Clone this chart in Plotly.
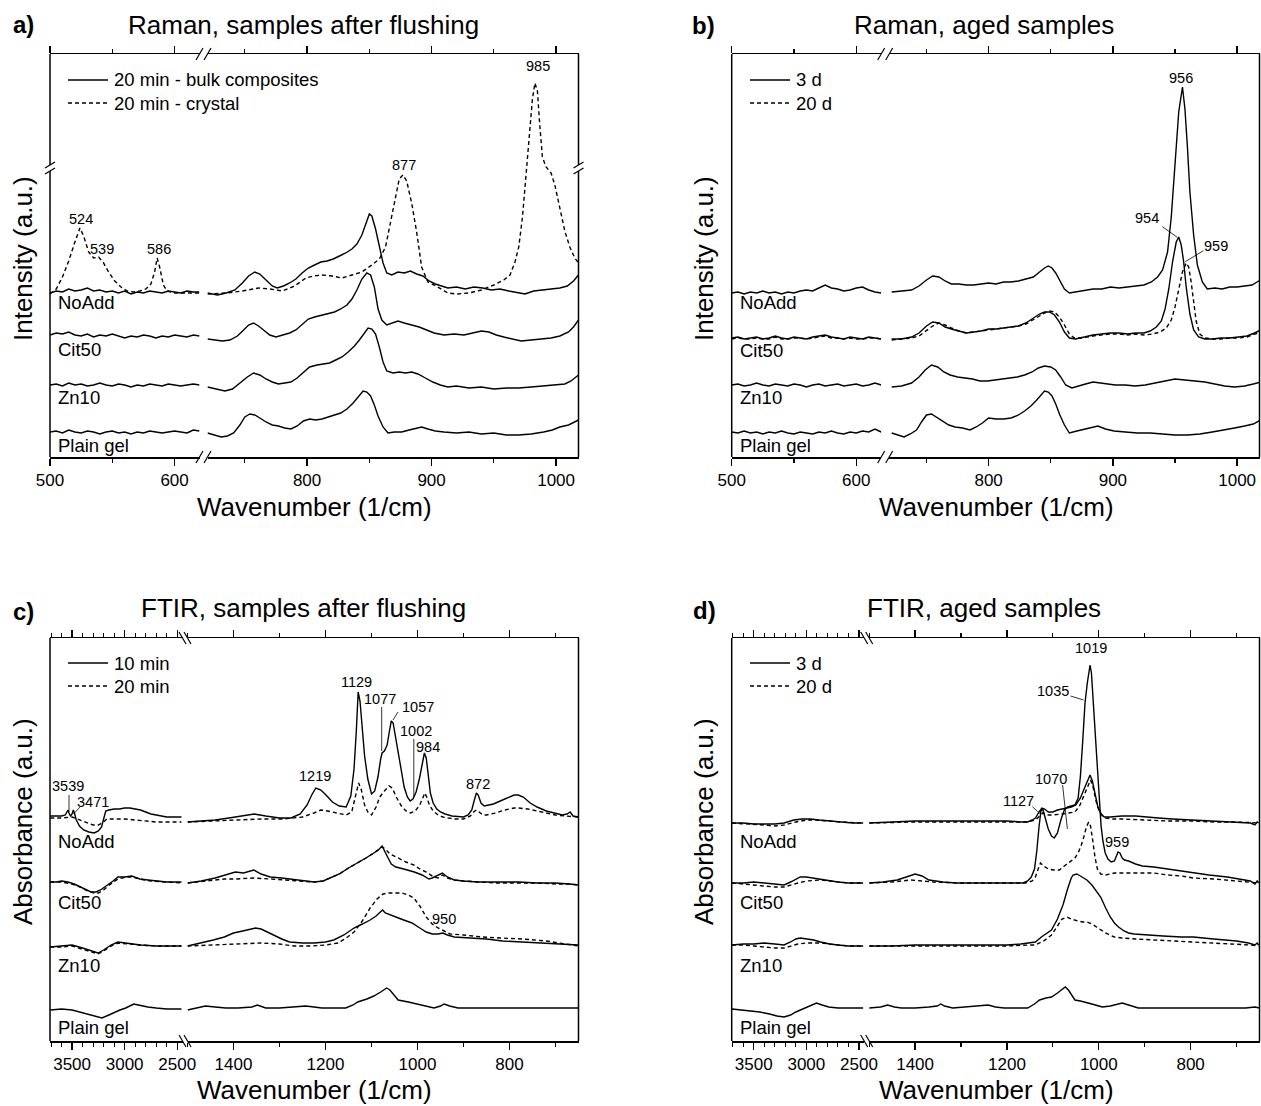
import plotly.graph_objects as go

W, H = 1261, 1106
FONT = "Arial, Liberation Sans, Helvetica, sans-serif"

# ======================= DATA =======================
# ---- Panel a: Raman, samples after flushing (stacked intensities, a.u.) ----
raman_left_wn = [500, 505, 510, 515, 520, 525, 530, 535, 540, 545, 550, 555, 560,
                 565, 570, 575, 580, 585, 590, 595, 600, 605, 610, 615, 620]

a_noadd_left = [164, 166, 165, 168, 166, 167, 169, 166, 167, 165, 166, 164, 166,
                163, 165, 164, 166, 165, 164, 166, 165, 164, 166, 165, 165]
a_cit50_left = [122, 124, 123, 125, 122, 121, 123, 120, 122, 121, 123, 121, 119,
                121, 120, 122, 121, 119, 121, 120, 122, 121, 120, 122, 121]
a_zn10_left = [72, 73, 71, 74, 72, 73, 71, 72, 74, 72, 71, 73, 72,
               70, 72, 71, 73, 72, 71, 73, 72, 71, 72, 73, 72]
a_plain_left = [25, 26, 24, 27, 25, 24, 26, 25, 23, 25, 26, 24, 25,
                23, 25, 24, 26, 25, 24, 25, 26, 25, 24, 27, 26]

a_crystal_left_wn = [500, 505, 510, 515, 520, 524, 527, 531, 535, 539, 543, 547, 552, 557,
                     562, 567, 572, 577, 581, 584, 586, 588, 591, 594, 600, 610, 620]
a_crystal_left = [163, 168, 180, 196, 215, 229, 221, 205, 199, 200, 194, 185, 176, 170,
                  166, 165, 166, 168, 173, 185, 199, 190, 172, 166, 164, 164, 164]
a_crystal_right_wn = [720, 735, 748, 761, 770, 780, 790, 799, 805, 812, 820, 828, 836, 844,
                      852, 858, 863, 867, 871, 874, 877, 880, 884, 888, 892, 897, 902, 908,
                      913, 920, 930, 940, 950, 958, 963, 967, 970, 973, 976, 979, 981, 983,
                      985, 987, 989, 992, 996, 999, 1003, 1007, 1011, 1015, 1018]
a_crystal_right = [163, 164, 166, 169, 168, 166, 171, 179, 181, 182, 181, 179, 182, 185,
                   192, 198, 210, 235, 262, 278, 282, 276, 254, 225, 190, 175, 172, 168,
                   164, 163, 164, 167, 172, 177, 182, 195, 210, 240, 285, 330, 358, 374,
                   366, 330, 300, 290, 284, 272, 248, 226, 210, 199, 194]

a_noadd_right_wn = [720, 728, 735, 742, 748, 753, 758, 762, 767, 772, 776, 781, 786, 791,
                    796, 801, 806, 811, 816, 821, 826, 831, 836, 840, 844, 847, 850, 852,
                    855, 858, 861, 864, 868, 873, 878, 883, 888, 893, 898, 903, 908, 913,
                    920, 927, 934, 941, 948, 955, 962, 969, 975, 982, 989, 996, 1003, 1009,
                    1014, 1018]
a_noadd_right = [164, 162, 164, 167, 174, 181, 185, 183, 177, 171, 169, 171, 174, 178,
                 184, 189, 192, 195, 196, 198, 201, 204, 208, 213, 222, 232, 243, 241,
                 228, 211, 194, 184, 182, 185, 184, 186, 183, 181, 176, 173, 171, 169,
                 170, 168, 170, 169, 167, 168, 166, 164, 163, 166, 167, 168, 169, 171,
                 176, 182]
a_cit50_right_wn = [720, 726, 732, 738, 744, 749, 753, 757, 761, 765, 770, 775, 780, 786,
                    791, 796, 801, 806, 812, 817, 822, 827, 832, 836, 840, 844, 848, 851,
                    854, 857, 860, 864, 868, 873, 878, 884, 890, 896, 902, 910, 918, 926,
                    934, 940, 946, 952, 958, 965, 972, 980, 988, 996, 1003, 1010, 1014, 1018]
a_cit50_right = [118, 117, 116, 117, 121, 127, 132, 134, 131, 127, 122, 120, 122, 124,
                 127, 133, 138, 140, 142, 144, 145, 148, 152, 158, 167, 178, 184, 182,
                 170, 148, 137, 132, 134, 136, 134, 132, 130, 127, 124, 122, 123, 122,
                 124, 126, 125, 122, 120, 118, 116, 117, 118, 119, 121, 125, 130, 137]
a_zn10_right_wn = [720, 727, 734, 740, 746, 752, 757, 762, 767, 772, 777, 782, 787, 792,
                   797, 802, 808, 813, 818, 823, 828, 833, 838, 842, 846, 849, 852, 855,
                   858, 861, 864, 869, 874, 879, 884, 889, 895, 901, 907, 913, 920, 930,
                   940, 950, 960, 970, 980, 990, 1000, 1007, 1012, 1018]
a_zn10_right = [70, 68, 66, 68, 74, 80, 84, 82, 78, 75, 73, 74, 75, 79,
                85, 90, 92, 93, 94, 97, 100, 105, 111, 117, 124, 129, 128, 123,
                110, 95, 86, 84, 85, 84, 85, 83, 79, 75, 72, 70, 71, 69,
                70, 68, 69, 69, 70, 71, 72, 73, 76, 82]
a_plain_right_wn = [720, 726, 731, 736, 741, 746, 750, 754, 758, 762, 767, 772, 777, 782,
                    787, 792, 797, 802, 807, 812, 817, 822, 827, 832, 837, 841, 845, 848,
                    851, 854, 857, 861, 865, 870, 876, 882, 888, 892, 897, 903, 910, 920,
                    930, 940, 950, 960, 970, 980, 990, 997, 1003, 1010, 1018]
a_plain_right = [24, 22, 20, 21, 24, 32, 40, 43, 42, 39, 35, 32, 31, 29,
                 28, 31, 36, 38, 37, 38, 40, 42, 44, 48, 54, 60, 66, 65,
                 61, 52, 41, 30, 24, 25, 25, 27, 29, 30, 28, 26, 25, 24,
                 25, 23, 24, 22, 22, 23, 25, 27, 30, 32, 37]

# ---- Panel b: Raman, aged samples ----
b_noadd3_left = [164, 165, 163, 165, 164, 166, 164, 165, 163, 165, 164, 166, 167,
                 166, 169, 172, 169, 168, 166, 167, 169, 170, 167, 165, 164]
b_cit50_3_left = [119, 120, 118, 119, 120, 118, 119, 121, 119, 118, 120, 119, 118,
                  120, 121, 122, 120, 119, 118, 120, 119, 118, 120, 119, 118]
b_cit50_20_left = [118, 119, 118, 118, 119, 118, 118, 120, 118, 118, 119, 119, 118,
                   119, 120, 121, 119, 119, 118, 119, 118, 118, 119, 119, 118]
b_zn10_left = [72, 73, 71, 72, 74, 72, 71, 73, 72, 71, 73, 72, 70,
               72, 73, 71, 72, 73, 71, 72, 73, 71, 72, 74, 72]
b_plain_left = [25, 24, 26, 24, 25, 23, 25, 24, 26, 24, 23, 25, 24,
                23, 25, 24, 26, 24, 23, 25, 24, 26, 25, 28, 25]

b_noadd3_right_wn = [722, 730, 738, 744, 750, 755, 760, 765, 770, 776, 782, 788, 794, 800,
                     806, 812, 818, 824, 830, 836, 841, 845, 848, 851, 854, 857, 861, 865,
                     870, 877, 884, 891, 898, 905, 912, 918, 925, 931, 936, 940, 944, 947,
                     950, 953, 956, 958, 960, 962, 965, 968, 972, 976, 982, 988, 994, 1000,
                     1006, 1012, 1016, 1019]
b_noadd3_right = [165, 166, 167, 171, 177, 181, 180, 176, 173, 173, 172, 172, 173, 174,
                  173, 175, 175, 176, 178, 180, 185, 189, 191, 189, 184, 177, 168, 164,
                  165, 167, 168, 168, 170, 169, 170, 171, 172, 175, 180, 187, 205, 240,
                  295, 345, 370, 348, 310, 265, 222, 192, 175, 168, 169, 168, 170, 170,
                  171, 172, 175, 177]
b_cit50_3_right_wn = [722, 730, 738, 744, 750, 755, 760, 765, 770, 776, 782, 788, 794, 800,
                      806, 812, 818, 824, 830, 836, 841, 845, 849, 853, 857, 861, 865, 870,
                      877, 884, 891, 898, 905, 912, 918, 925, 930, 935, 939, 942, 945, 948,
                      951, 953, 955, 957, 959, 962, 965, 969, 974, 980, 987, 994, 1001, 1008,
                      1014, 1019]
b_cit50_3_right = [118, 118, 120, 124, 131, 135, 134, 130, 128, 126, 124, 125, 126, 128,
                   128, 129, 130, 131, 134, 139, 143, 145, 145, 142, 135, 125, 119, 118,
                   120, 122, 123, 124, 124, 123, 124, 124, 126, 130, 136, 148, 168, 195,
                   215, 220, 212, 195, 170, 143, 127, 120, 118, 118, 119, 119, 120, 121,
                   124, 127]
b_cit50_20_right_wn = [722, 730, 738, 744, 750, 755, 760, 765, 770, 776, 782, 788, 794, 800,
                       806, 812, 818, 824, 830, 836, 841, 845, 849, 853, 857, 861, 865, 869,
                       875, 884, 891, 898, 905, 912, 918, 925, 932, 938, 943, 947, 950, 953,
                       956, 959, 961, 963, 965, 967, 970, 974, 980, 987, 994, 1001, 1008,
                       1014, 1019]
b_cit50_20_right = [117, 118, 119, 121, 126, 131, 134, 132, 129, 126, 124, 125, 126, 127,
                    128, 129, 130, 131, 133, 137, 141, 144, 146, 145, 140, 132, 123, 119,
                    119, 121, 122, 123, 123, 122, 123, 122, 123, 125, 129, 137, 150, 168,
                    185, 194, 190, 175, 155, 136, 123, 119, 118, 118, 119, 119, 120,
                    123, 125]
b_zn10_right_wn = [722, 730, 738, 744, 749, 754, 759, 764, 769, 775, 781, 787, 793, 799,
                   805, 811, 817, 823, 829, 835, 840, 845, 850, 854, 858, 862, 867, 872,
                   878, 884, 890, 896, 902, 910, 918, 926, 934, 942, 950, 958, 966, 974,
                   982, 990, 998, 1006, 1013, 1019]
b_zn10_right = [70, 71, 74, 80, 87, 92, 90, 85, 82, 80, 79, 78, 76, 76,
                77, 78, 79, 80, 82, 85, 89, 91, 90, 87, 80, 72, 69, 71,
                73, 75, 74, 73, 72, 72, 71, 72, 74, 76, 78, 77, 76, 75,
                73, 71, 70, 71, 73, 75]
b_plain_right_wn = [722, 727, 732, 737, 742, 746, 750, 754, 758, 763, 768, 773, 779, 785,
                    790, 795, 800, 806, 812, 818, 824, 829, 834, 838, 842, 845, 848, 851,
                    854, 857, 861, 865, 871, 877, 883, 888, 894, 901, 910, 920, 930, 940,
                    950, 960, 970, 980, 990, 998, 1006, 1013, 1019]
b_plain_right = [24, 22, 20, 23, 27, 35, 42, 43, 40, 36, 32, 30, 29, 27,
                 30, 34, 39, 38, 38, 39, 42, 46, 51, 56, 62, 66, 65, 61,
                 53, 43, 32, 24, 26, 28, 30, 31, 28, 26, 25, 24, 24, 23,
                 22, 22, 23, 25, 27, 29, 31, 33, 37]

# ---- Panel c: FTIR, samples after flushing (stacked absorbance, a.u.) ----
c_noadd10_left_wn = [3708, 3650, 3600, 3565, 3545, 3539, 3530, 3515, 3500, 3488, 3478, 3460,
                     3430, 3390, 3340, 3290, 3250, 3220, 3200, 3180, 3150, 3100, 3050, 3000,
                     2950, 2900, 2850, 2800, 2750, 2700, 2650, 2600, 2550, 2460]
c_noadd10_left = [225, 225, 225, 226, 229, 231, 228, 225, 227, 231, 228, 221,
                  215, 211, 209, 208, 210, 214, 222, 230, 231, 232, 232, 233,
                  233, 232, 231, 229, 227, 226, 225, 224, 224, 224]
c_noadd20_left_wn = [3708, 3600, 3500, 3420, 3350, 3300, 3250, 3200, 3170, 3100, 3000,
                     2900, 2800, 2700, 2600, 2460]
c_noadd20_left = [223, 223, 224, 221, 218, 216, 216, 219, 222, 222, 222,
                  221, 220, 219, 219, 219]
c_noadd10_right_wn = [1500, 1470, 1440, 1410, 1380, 1355, 1330, 1300, 1275, 1255, 1240, 1230,
                      1221, 1210, 1199, 1185, 1170, 1155, 1145, 1138, 1133, 1129, 1125, 1120,
                      1115, 1108, 1100, 1093, 1086, 1080, 1077, 1072, 1066, 1061, 1057, 1053,
                      1048, 1042, 1036, 1029, 1022, 1016, 1010, 1003, 996, 990, 985, 981,
                      977, 972, 966, 958, 950, 940, 925, 910, 900, 890, 882, 877,
                      872, 868, 862, 855, 845, 835, 820, 805, 790, 781, 770, 755,
                      740, 720, 700, 685, 675, 668, 662, 650]
c_noadd10_right = [219, 220, 221, 223, 225, 227, 225, 223, 223, 227, 236, 246,
                   253, 251, 246, 239, 235, 234, 245, 272, 310, 349, 340, 312,
                   285, 262, 247, 250, 264, 282, 288, 290, 296, 310, 320, 318,
                   305, 288, 270, 254, 244, 240, 242, 249, 262, 278, 288, 283,
                   265, 248, 238, 232, 229, 227, 225, 224, 224, 226, 231, 240,
                   248, 246, 238, 235, 236, 237, 240, 243, 246, 246, 244, 238,
                   234, 230, 228, 226, 227, 229, 225, 224]
c_noadd20_right_wn = [1500, 1450, 1400, 1340, 1290, 1250, 1225, 1210, 1195, 1175, 1155,
                      1143, 1135, 1128, 1122, 1115, 1108, 1100, 1090, 1082, 1072, 1062,
                      1055, 1045, 1035, 1025, 1015, 1005, 995, 988, 984, 980, 974, 966,
                      955, 945, 920, 900, 885, 878, 872, 866, 858, 850, 830, 810, 790,
                      780, 760, 740, 720, 700, 680, 660, 650]
c_noadd20_right = [219, 220, 221, 222, 222, 224, 228, 231, 230, 228, 226,
                   229, 243, 258, 251, 236, 229, 226, 234, 244, 250, 255,
                   253, 243, 235, 230, 228, 230, 236, 243, 248, 244, 236, 230,
                   226, 224, 222, 222, 225, 229, 231, 229, 226, 226, 228, 231, 233,
                   233, 232, 230, 228, 226, 225, 224, 224]
c_cit50_10_left_wn = [3708, 3650, 3600, 3540, 3480, 3424, 3370, 3320, 3273, 3230, 3190,
                      3159, 3110, 3064, 3000, 2932, 2890, 2856, 2780, 2700, 2600, 2460]
c_cit50_10_left = [159, 159, 160, 159, 157, 154, 151, 149, 149, 151, 154,
                   156, 160, 164, 164, 165, 163, 162, 161, 160, 159, 159]
c_cit50_20_left_wn = [3708, 3600, 3500, 3424, 3350, 3290, 3250, 3200, 3159, 3100, 3064,
                      2980, 2932, 2856, 2750, 2600, 2460]
c_cit50_20_left = [159, 159, 157, 154, 150, 148, 148, 151, 155, 159, 162,
                   164, 164, 162, 160, 159, 158]
c_cit50_10_right_wn = [1500, 1470, 1440, 1410, 1396, 1378, 1356, 1340, 1320, 1295, 1260,
                       1225, 1205, 1190, 1170, 1150, 1130, 1112, 1095, 1085, 1077, 1072,
                       1065, 1057, 1047, 1030, 1007, 990, 975, 968, 955, 946, 935, 920,
                       900, 870, 830, 780, 740, 700, 670, 650]
c_cit50_10_right = [158, 160, 163, 167, 169, 168, 171, 167, 164, 163, 161,
                    159, 160, 163, 167, 173, 178, 183, 188, 191, 195, 191,
                    184, 177, 174, 172, 169, 166, 162, 163, 166, 168, 164, 161,
                    160, 159, 159, 159, 158, 158, 157, 156]
c_cit50_20_right_wn = [1500, 1460, 1420, 1396, 1356, 1320, 1290, 1250, 1225, 1205, 1190,
                       1170, 1150, 1130, 1112, 1095, 1085, 1077, 1070, 1060, 1042, 1025,
                       1008, 995, 981, 965, 955, 946, 935, 920, 900, 870, 830, 780,
                       740, 700, 670, 650]
c_cit50_20_right = [158, 160, 162, 162, 163, 162, 161, 160, 159, 160, 163,
                    167, 173, 178, 183, 188, 191, 194, 192, 187, 183, 179,
                    176, 172, 169, 164, 163, 166, 163, 161, 160, 159, 158, 158,
                    158, 157, 157, 156]
c_zn10_10_left_wn = [3708, 3600, 3500, 3400, 3320, 3254, 3200, 3130, 3064, 3000, 2932,
                     2850, 2700, 2600, 2460]
c_zn10_10_left = [94, 95, 96, 93, 90, 88, 91, 96, 99, 98, 97, 96, 95, 95, 95]
c_zn10_20_left_wn = [3708, 3600, 3500, 3400, 3320, 3254, 3200, 3130, 3064, 2980, 2850,
                     2700, 2460]
c_zn10_20_left = [94, 94, 95, 92, 89, 87, 90, 95, 98, 97, 96, 95, 95]
c_zn10_10_right_wn = [1500, 1470, 1444, 1420, 1400, 1380, 1365, 1352, 1340, 1325, 1313,
                      1295, 1278, 1250, 1225, 1200, 1182, 1160, 1138, 1120, 1103, 1090,
                      1080, 1076, 1070, 1060, 1047, 1030, 1012, 995, 981, 968, 955,
                      945, 935, 920, 890, 850, 815, 770, 720, 680, 650]
c_zn10_10_right = [95, 98, 101, 104, 108, 110, 112, 113, 112, 109, 106,
                   102, 99, 98, 98, 99, 101, 106, 113, 117, 121, 125,
                   130, 131, 128, 126, 124, 121, 118, 113, 109, 107, 107,
                   108, 106, 104, 103, 102, 100, 99, 98, 97, 96]
c_zn10_20_right_wn = [1500, 1450, 1400, 1340, 1300, 1269, 1230, 1200, 1173, 1155, 1138,
                      1120, 1103, 1088, 1075, 1065, 1050, 1034, 1020, 1008, 995, 981,
                      968, 955, 942, 929, 900, 859, 820, 772, 720, 680, 650]
c_zn10_20_right = [95, 96, 97, 98, 97, 95, 95, 96, 98, 103, 109,
                   120, 133, 142, 147, 148, 148, 148, 146, 143, 135, 124,
                   117, 113, 110, 107, 106, 104, 103, 102, 100, 97, 95]
c_plain_left_wn = [3708, 3600, 3500, 3400, 3300, 3216, 3150, 3090, 3045, 2990, 2950,
                   2913, 2870, 2780, 2700, 2600, 2460]
c_plain_left = [31, 32, 31, 28, 25, 23, 26, 29, 31, 33, 35, 37, 36, 34, 33, 32, 32]
c_plain_right_wn = [1500, 1480, 1461, 1440, 1417, 1390, 1360, 1348, 1340, 1330, 1300,
                    1270, 1243, 1225, 1208, 1180, 1156, 1140, 1130, 1110, 1095, 1080,
                    1067, 1060, 1050, 1042, 1020, 999, 980, 964, 950, 942, 930,
                    912, 880, 800, 700, 650]
c_plain_right = [31, 33, 35, 34, 33, 33, 34, 36, 35, 33, 33,
                 34, 35, 34, 33, 33, 33, 36, 39, 42, 45, 49,
                 53, 51, 45, 41, 39, 37, 35, 33, 35, 37, 35,
                 33, 33, 33, 33, 33]

# ---- Panel d: FTIR, aged samples ----
d_noadd3_left_wn = [3708, 3600, 3500, 3404, 3300, 3212, 3120, 3040, 2962, 2880, 2780,
                    2673, 2560, 2460]
d_noadd3_left = [218, 218, 217, 217, 217, 218, 221, 222, 222, 221, 220, 219, 218, 218]
d_noadd20_left_wn = [3708, 3500, 3404, 3300, 3212, 3100, 3000, 2900, 2800, 2673, 2460]
d_noadd20_left = [218, 217, 216, 215, 216, 219, 221, 221, 220, 219, 218]
d_noadd3_right_wn = [1500, 1450, 1400, 1350, 1300, 1250, 1200, 1170, 1155, 1145, 1138,
                     1130, 1124, 1118, 1110, 1100, 1090, 1080, 1069, 1060, 1050, 1040,
                     1032, 1025, 1019, 1014, 1008, 1002, 995, 988, 975, 950, 920,
                     900, 870, 840, 800, 760, 720, 690, 670, 660, 655, 652]
d_noadd3_right = [218, 219, 220, 220, 220, 220, 220, 219, 219, 221, 223,
                  229, 233, 232, 229, 229, 231, 232, 233, 234, 236, 243,
                  252, 260, 266, 260, 246, 234, 227, 224, 224, 225, 225,
                  224, 223, 222, 221, 220, 219, 219, 218, 216, 219, 218]
d_noadd20_right_wn = [1500, 1400, 1300, 1200, 1155, 1138, 1128, 1122, 1115, 1100, 1080,
                      1065, 1052, 1042, 1030, 1022, 1018, 1013, 1006, 1000, 992, 985,
                      970, 950, 900, 850, 800, 750, 700, 660, 652]
d_noadd20_right = [218, 219, 219, 219, 219, 221, 226, 228, 226, 226, 227,
                   228, 229, 235, 248, 258, 261, 255, 240, 231, 225, 223,
                   222, 222, 221, 220, 220, 219, 219, 218, 218]
d_cit50_3_left_wn = [3708, 3600, 3500, 3404, 3300, 3212, 3150, 3100, 3058, 3000, 2940,
                     2865, 2780, 2700, 2600, 2460]
d_cit50_3_left = [158, 158, 159, 158, 157, 156, 159, 162, 164, 164, 163, 162, 160, 159, 158, 158]
d_cit50_20_left_wn = [3708, 3600, 3500, 3404, 3300, 3212, 3150, 3080, 3000, 2920, 2865,
                      2780, 2700, 2600, 2460]
d_cit50_20_left = [158, 157, 156, 155, 154, 154, 156, 158, 160, 161, 161, 160, 159, 158, 158]
d_cit50_3_right_wn = [1500, 1470, 1439, 1420, 1400, 1385, 1370, 1340, 1310, 1270, 1224,
                      1190, 1165, 1155, 1147, 1140, 1135, 1130, 1126, 1122, 1116, 1110,
                      1103, 1097, 1090, 1082, 1075, 1068, 1060, 1052, 1045, 1040, 1035,
                      1030, 1025, 1021, 1019, 1016, 1012, 1008, 1004, 999, 995, 991,
                      986, 980, 973, 966, 961, 958, 954, 949, 944, 935, 920, 905,
                      880, 850, 820, 794, 760, 720, 690, 670, 660, 655, 652]
d_cit50_3_right = [158, 159, 161, 164, 167, 165, 161, 159, 158, 158, 158,
                   158, 158, 160, 164, 172, 190, 215, 230, 232, 222, 212,
                   205, 203, 208, 222, 231, 234, 235, 236, 243, 265, 300,
                   338, 358, 372, 376, 368, 340, 305, 280, 240, 215, 200,
                   188, 182, 179, 180, 186, 189, 188, 183, 181, 180, 177, 175,
                   174, 172, 170, 168, 166, 164, 162, 160, 157, 160, 158]
d_cit50_20_right_wn = [1500, 1450, 1410, 1390, 1360, 1300, 1224, 1160, 1145, 1138, 1132,
                       1127, 1120, 1110, 1098, 1086, 1075, 1063, 1052, 1045, 1038, 1032,
                       1027, 1022, 1018, 1013, 1008, 1003, 996, 985, 975, 966, 950,
                       930, 900, 880, 850, 820, 794, 750, 700, 670, 656, 652]
d_cit50_20_right = [158, 159, 161, 160, 159, 158, 158, 158, 160, 164, 172,
                    178, 175, 172, 171, 171, 175, 179, 183, 188, 196, 205,
                    214, 219, 215, 200, 183, 172, 167, 166, 167, 168, 168,
                    168, 168, 168, 166, 165, 163, 162, 160, 159, 158, 158]
d_zn10_3_left_wn = [3708, 3600, 3500, 3404, 3300, 3212, 3150, 3100, 3058, 2990, 2930,
                    2865, 2780, 2700, 2600, 2460]
d_zn10_3_left = [96, 97, 97, 98, 97, 96, 99, 102, 103, 102, 101, 99, 97, 96, 95, 95]
d_zn10_20_left_wn = [3708, 3600, 3500, 3404, 3300, 3212, 3150, 3080, 3000, 2904, 2850,
                     2780, 2700, 2600, 2460]
d_zn10_20_left = [96, 96, 95, 94, 93, 93, 95, 97, 98, 98, 98, 97, 96, 95, 95]
d_zn10_3_right_wn = [1500, 1450, 1400, 1344, 1300, 1250, 1200, 1170, 1150, 1138, 1125,
                     1112, 1103, 1090, 1078, 1068, 1060, 1056, 1048, 1040, 1032, 1026,
                     1015, 1005, 996, 985, 975, 966, 957, 945, 935, 923, 900,
                     860, 820, 794, 750, 700, 674, 660, 655, 652]
d_zn10_3_right = [95, 95, 96, 96, 96, 96, 96, 97, 98, 99, 104,
                  108, 111, 122, 136, 152, 163, 166, 167, 165, 163, 161,
                  156, 150, 144, 133, 124, 118, 114, 110, 108, 107, 106,
                  105, 104, 104, 102, 100, 98, 96, 98, 96]
d_zn10_20_right_wn = [1500, 1400, 1300, 1200, 1150, 1138, 1120, 1103, 1090, 1080, 1069,
                      1060, 1045, 1035, 1026, 1015, 1005, 996, 985, 966, 950, 920,
                      880, 840, 794, 750, 700, 670, 652]
d_zn10_20_right = [95, 95, 95, 95, 96, 96, 100, 106, 115, 122, 124,
                   122, 120, 119, 119, 117, 114, 111, 108, 104, 103, 102,
                   101, 100, 99, 98, 97, 96, 95]
d_plain_left_wn = [3708, 3600, 3500, 3442, 3350, 3280, 3212, 3150, 3100, 3058, 3000,
                   2950, 2904, 2850, 2788, 2700, 2600, 2460]
d_plain_left = [32, 31, 30, 29, 27, 25, 24, 26, 29, 31, 33, 36, 38, 36, 34, 33, 33, 33]
d_plain_right_wn = [1500, 1475, 1460, 1445, 1430, 1400, 1370, 1352, 1344, 1336, 1318,
                    1290, 1260, 1241, 1225, 1206, 1180, 1155, 1140, 1129, 1115, 1103,
                    1090, 1080, 1073, 1066, 1058, 1052, 1040, 1030, 1015, 1000, 992,
                    975, 960, 949, 935, 914, 880, 800, 720, 680, 660, 650]
d_plain_right = [33, 34, 36, 34, 33, 33, 34, 35, 37, 35, 33,
                 34, 35, 36, 34, 33, 33, 33, 37, 41, 43, 44,
                 48, 52, 54, 51, 45, 41, 40, 39, 37, 35, 34,
                 35, 37, 38, 36, 33, 33, 33, 33, 33, 34, 33]

# ---- text content ----
titles = ["Raman, samples after flushing", "Raman, aged samples",
          "FTIR, samples after flushing", "FTIR, aged samples"]
panel_letters = ["a)", "b)", "c)", "d)"]
y_titles = ["Intensity (a.u.)", "Intensity (a.u.)", "Absorbance (a.u.)", "Absorbance (a.u.)"]
x_title = "Wavenumber (1/cm)"
sample_names = ["NoAdd", "Cit50", "Zn10", "Plain gel"]
legend_texts = [("20 min - bulk composites", "20 min - crystal"), ("3 d", "20 d"),
                ("10 min", "20 min"), ("3 d", "20 d")]

# ======================= FIGURE =======================
def pxx(x):
    return x / W


def pyy(y):
    return 1 - y / H


geom = {
    'a': dict(L=(50, 199.5), R=(207.5, 578.5), top=54, bot=457, xl='x', xr='x2', y='y',
              rl=[500, 620], rr=[720, 1018], t=(500, 100, 50, 800, 100, 50)),
    'b': dict(L=(731.7, 881.2), R=(889.2, 1259.5), top=54, bot=457, xl='x3', xr='x4', y='y2',
              rl=[500, 620], rr=[720, 1018], t=(500, 100, 50, 800, 100, 50)),
    'c': dict(L=(50, 182.5), R=(187.5, 578.5), top=638, bot=1041, xl='x5', xr='x6', y='y3',
              rl=[3710, 2450], rr=[1500, 650], t=(2500, 500, 100, 800, 200, 100)),
    'd': dict(L=(731.7, 864.2), R=(869.2, 1259.5), top=638, bot=1041, xl='x7', xr='x8', y='y4',
              rl=[3710, 2450], rr=[1500, 650], t=(2500, 500, 100, 800, 200, 100)),
}

fig = go.Figure()
LW = 1.4
DASH = "4px,3px"


def add(g, side, x, y, dash=False):
    assert len(x) == len(y), (len(x), len(y))
    fig.add_trace(go.Scatter(
        x=x, y=y, xaxis=g[side], yaxis=g['y'], mode='lines',
        line=dict(color='black', width=LW, dash=DASH if dash else 'solid'),
        showlegend=False, hoverinfo='skip'))


ga, gb, gc, gd = geom['a'], geom['b'], geom['c'], geom['d']

# Panel a
add(ga, 'xl', a_crystal_left_wn, a_crystal_left, True)
add(ga, 'xr', a_crystal_right_wn, a_crystal_right, True)
for yl, xr, yr in [(a_noadd_left, a_noadd_right_wn, a_noadd_right),
                   (a_cit50_left, a_cit50_right_wn, a_cit50_right),
                   (a_zn10_left, a_zn10_right_wn, a_zn10_right),
                   (a_plain_left, a_plain_right_wn, a_plain_right)]:
    add(ga, 'xl', raman_left_wn, yl)
    add(ga, 'xr', xr, yr)

# Panel b
add(gb, 'xl', raman_left_wn, b_cit50_20_left, True)
add(gb, 'xr', b_cit50_20_right_wn, b_cit50_20_right, True)
for yl, xr, yr in [(b_noadd3_left, b_noadd3_right_wn, b_noadd3_right),
                   (b_cit50_3_left, b_cit50_3_right_wn, b_cit50_3_right),
                   (b_zn10_left, b_zn10_right_wn, b_zn10_right),
                   (b_plain_left, b_plain_right_wn, b_plain_right)]:
    add(gb, 'xl', raman_left_wn, yl)
    add(gb, 'xr', xr, yr)

# Panel c
for xl, yl, xr, yr in [(c_noadd20_left_wn, c_noadd20_left, c_noadd20_right_wn, c_noadd20_right),
                       (c_cit50_20_left_wn, c_cit50_20_left, c_cit50_20_right_wn, c_cit50_20_right),
                       (c_zn10_20_left_wn, c_zn10_20_left, c_zn10_20_right_wn, c_zn10_20_right)]:
    add(gc, 'xl', xl, yl, True)
    add(gc, 'xr', xr, yr, True)
for xl, yl, xr, yr in [(c_noadd10_left_wn, c_noadd10_left, c_noadd10_right_wn, c_noadd10_right),
                       (c_cit50_10_left_wn, c_cit50_10_left, c_cit50_10_right_wn, c_cit50_10_right),
                       (c_zn10_10_left_wn, c_zn10_10_left, c_zn10_10_right_wn, c_zn10_10_right),
                       (c_plain_left_wn, c_plain_left, c_plain_right_wn, c_plain_right)]:
    add(gc, 'xl', xl, yl)
    add(gc, 'xr', xr, yr)

# Panel d
for xl, yl, xr, yr in [(d_noadd20_left_wn, d_noadd20_left, d_noadd20_right_wn, d_noadd20_right),
                       (d_cit50_20_left_wn, d_cit50_20_left, d_cit50_20_right_wn, d_cit50_20_right),
                       (d_zn10_20_left_wn, d_zn10_20_left, d_zn10_20_right_wn, d_zn10_20_right)]:
    add(gd, 'xl', xl, yl, True)
    add(gd, 'xr', xr, yr, True)
for xl, yl, xr, yr in [(d_noadd3_left_wn, d_noadd3_left, d_noadd3_right_wn, d_noadd3_right),
                       (d_cit50_3_left_wn, d_cit50_3_left, d_cit50_3_right_wn, d_cit50_3_right),
                       (d_zn10_3_left_wn, d_zn10_3_left, d_zn10_3_right_wn, d_zn10_3_right),
                       (d_plain_left_wn, d_plain_left, d_plain_right_wn, d_plain_right)]:
    add(gd, 'xl', xl, yl)
    add(gd, 'xr', xr, yr)

# ---- axes ----
layout_axes = {}


def axname(ref):
    return ('xaxis' if ref[0] == 'x' else 'yaxis') + ref[1:]


for key, g in geom.items():
    t0l, dtl, mdl, t0r, dtr, mdr = g['t']
    for side, dom, rng, t0, dt, md in [('xl', g['L'], g['rl'], t0l, dtl, mdl),
                                       ('xr', g['R'], g['rr'], t0r, dtr, mdr)]:
        layout_axes[axname(g[side])] = dict(
            domain=[pxx(dom[0]), pxx(dom[1])], range=rng, anchor=g['y'],
            automargin=False,
            showline=True, linecolor='black', linewidth=1.5, mirror='ticks',
            ticks='outside', ticklen=7, tickwidth=1.3, tickcolor='black',
            tickmode='linear', tick0=t0, dtick=dt,
            minor=dict(tickmode='linear', tick0=t0, dtick=md, ticks='outside',
                       ticklen=4, tickwidth=1.1, tickcolor='black'),
            showgrid=False, zeroline=False, fixedrange=True,
            tickfont=dict(size=17, color='black', family=FONT))
    layout_axes[axname(g['y'])] = dict(
        domain=[pyy(g['bot']), pyy(g['top'])], range=[0, g['bot'] - g['top']],
        anchor=g['xl'], visible=False, fixedrange=True, automargin=False)

shapes = []


def seg(x0, y0, x1, y1, w=1.5, dash='solid'):
    shapes.append(dict(type='line', xref='paper', yref='paper',
                       x0=pxx(x0), y0=pyy(y0), x1=pxx(x1), y1=pyy(y1),
                       line=dict(color='black', width=w, dash=dash)))


# panel borders (vertical) and break marks
for key, g in geom.items():
    xL, xR = g['L'][0], g['R'][1]
    if key == 'a':
        for xv in (xL, xR):
            seg(xv, g['top'], xv, 165)
            seg(xv, 171, xv, g['bot'])
            for cy in (165, 171):
                seg(xv - 5, cy + 3, xv + 5, cy - 3, 1.2)
    else:
        seg(xL, g['top'], xL, g['bot'])
        seg(xR, g['top'], xR, g['bot'])
    for cx in (g['L'][1], g['R'][0]):
        for cy in (g['top'], g['bot']):
            if key in ('a', 'b'):
                seg(cx - 3.5, cy + 6, cx + 3.5, cy - 6, 1.2)
            else:
                seg(cx - 3.5, cy - 6, cx + 3.5, cy + 6, 1.2)

annotations = []


def text(x, y, s, size=15, xanchor='center', angle=0, bold=False):
    annotations.append(dict(
        xref='paper', yref='paper', x=pxx(x), y=pyy(y),
        text=('<b>%s</b>' % s) if bold else s, showarrow=False,
        xanchor=xanchor, yanchor='middle', textangle=angle,
        font=dict(size=size, color='black', family=FONT)))


# titles, letters, axis titles
title_pos = [(303, 25), (984, 25), (303, 608), (984, 608)]
letter_pos = [(23, 25), (703, 26), (23, 611), (704, 610)]
ytitle_pos = [(23, 259), (704, 259), (23, 822), (704, 822)]
xtitle_pos = [(314, 507), (996, 507), (314, 1090), (996, 1090)]
for i in range(4):
    text(*title_pos[i], titles[i], size=26)
    text(*letter_pos[i], panel_letters[i], size=24, bold=True)
    text(*ytitle_pos[i], y_titles[i], size=26, angle=-90)
    text(*xtitle_pos[i], x_title, size=26)

# legends (line keys + text)
legend_pos = [(68, 80, 103), (750, 80, 103), (68, 663, 686), (750, 663, 686)]
for (lx, y1, y2), (t1, t2) in zip(legend_pos, legend_texts):
    seg(lx, y1, lx + 40, y1, LW)
    seg(lx, y2, lx + 40, y2, LW, DASH)
    text(lx + 44, y1, t1, size=18.5, xanchor='left')
    text(lx + 44, y2, t2, size=18.5, xanchor='left')

# sample labels
label_y = [(303, 349, 397, 445), (303, 350, 397, 445),
           (841, 902, 965, 1027), (841, 902, 965, 1027)]
label_x = [56, 738, 56, 738]
for i in range(4):
    for name, yy in zip(sample_names, label_y[i]):
        text(label_x[i], yy, name, size=18.5, xanchor='left')

# peak labels
peak_labels = [
    ("524", 80.7, 219), ("539", 101.7, 249), ("586", 158.7, 249), ("877", 403.8, 165),
    ("985", 538.4, 66),
    ("956", 1181.3, 78), ("954", 1147, 218), ("959", 1215.5, 246),
    ("3539", 68, 786), ("3471", 93, 802), ("1219", 315.4, 776), ("1129", 356.8, 682),
    ("1077", 379.7, 699), ("1057", 417.8, 707), ("1002", 415.8, 731), ("984", 428, 747),
    ("872", 478.1, 784), ("950", 444, 919),
    ("1019", 1090.8, 648), ("1035", 1052.5, 691), ("1070", 1050.5, 779),
    ("1127", 1018.3, 801), ("959", 1116.9, 842),
]
for s, x, y in peak_labels:
    text(x, y, s, size=14.5)

leaders = [
    (1162.4, 226.7, 1177.3, 237.3), (1203.4, 250.7, 1185.3, 261.7),
    (69, 795, 69, 812), (80, 807, 73.5, 814), (381.7, 707, 381.7, 751),
    (398, 712, 393, 720), (413.8, 739, 413.8, 797),
    (1070.6, 696, 1083.5, 700), (1062.6, 785, 1067.4, 829), (1032.4, 806.7, 1039.7, 813.3),
]
for x0, y0, x1, y1 in leaders:
    seg(x0, y0, x1, y1, 0.8)

fig.update_layout(
    width=W, height=H, autosize=False,
    margin=dict(l=0, r=0, t=0, b=0, pad=0),
    paper_bgcolor='white', plot_bgcolor='white',
    font=dict(family=FONT, color='black'),
    showlegend=False,
    shapes=shapes, annotations=annotations,
    **layout_axes)

fig.write_html(
    "out.html",
    config={'displayModeBar': False, 'staticPlot': True},
    post_script="document.documentElement.style.margin='0';"
                "document.body.style.margin='0';"
                "document.body.style.overflow='hidden';")
